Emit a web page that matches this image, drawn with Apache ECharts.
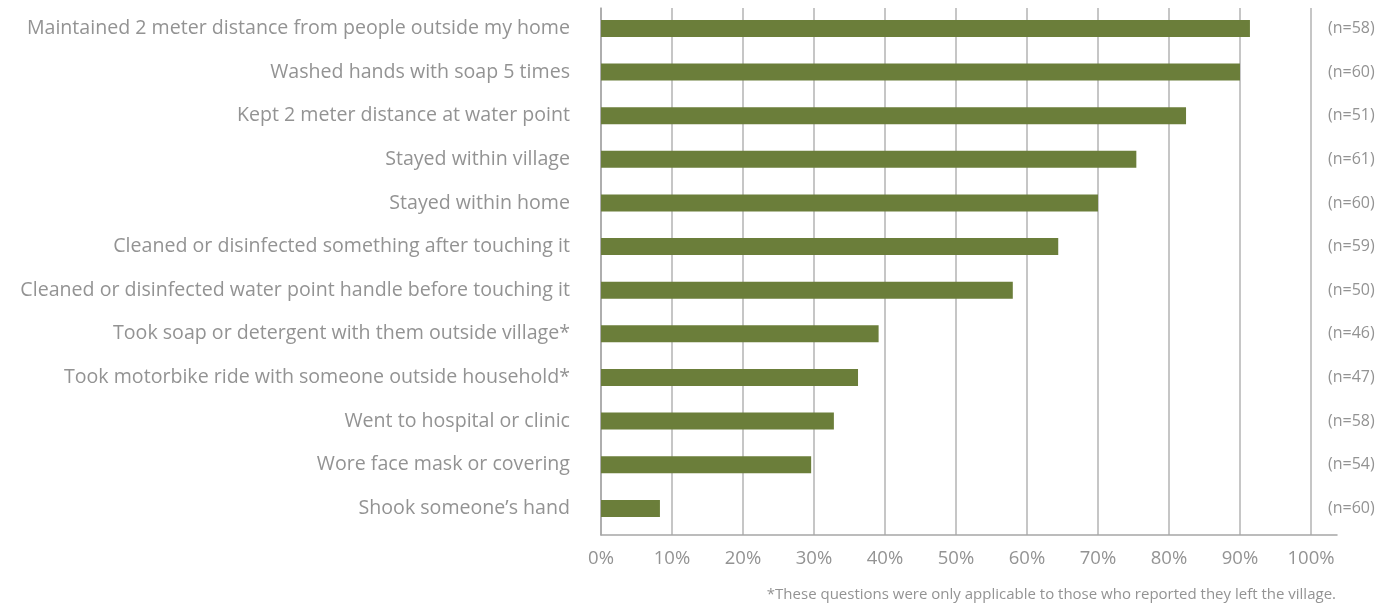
<!DOCTYPE html>
<html>
<head>
<meta charset="utf-8">
<script src="https://cdn.jsdelivr.net/npm/echarts@6/dist/echarts.min.js"></script>
<style>
  html, body { margin: 0; padding: 0; background: #fff; }
  #chart { width: 1390px; height: 604px; }
</style>
</head>
<body>
<div id="chart"></div>
<script>
// Share of respondents reporting each behaviour (%), with sample size per item
const behaviours = [
  'Maintained 2 meter distance from people outside my home',
  'Washed hands with soap 5 times',
  'Kept 2 meter distance at water point',
  'Stayed within village',
  'Stayed within home',
  'Cleaned or disinfected something after touching it',
  'Cleaned or disinfected water point handle before touching it',
  'Took soap or detergent with them outside village*',
  'Took motorbike ride with someone outside household*',
  'Went to hospital or clinic',
  'Wore face mask or covering',
  'Shook someone\u2019s hand'
];
const percentages = [91.4, 90.0, 82.4, 75.4, 70.0, 64.4, 58.0, 39.1, 36.2, 32.8, 29.6, 8.3];
const sampleSizes = [58, 60, 51, 61, 60, 59, 50, 46, 47, 58, 54, 60];
const footnote = '*These questions were only applicable to those who reported they left the village.';

const FONT = '"Open Sans", sans-serif';
const TEXT = '#939393';
const GRID = '#b3b3b3';
const BAR = '#6b7e3a';

// Axis frame runs a little past 100%; the extra stretch carries no label or gridline.
const FRAME_MAX = 103.66;
const gridColors = [];
for (let i = 0; i <= 10; i++) gridColors.push(GRID);
gridColors.push('rgba(0,0,0,0)');

const chart = echarts.init(document.getElementById('chart'), null, { renderer: 'canvas' });
chart.setOption({
  backgroundColor: '#fff',
  animation: false,
  grid: [
    // frame: x axis, gridlines, left axis line
    { left: 601, right: 53, top: 8, bottom: 69, containLabel: false },
    // bars and category labels
    { left: 601, width: 710, top: 6.6, height: 523.6, containLabel: false }
  ],
  xAxis: [
    {
      type: 'value', gridIndex: 0, min: 0, max: FRAME_MAX, interval: 10,
      axisLine: { show: true, lineStyle: { color: '#a6a6a6', width: 1.5 } },
      axisTick: { show: false },
      splitLine: { show: true, lineStyle: { color: gridColors, width: 1.5 } },
      axisLabel: {
        color: TEXT, fontFamily: FONT, fontSize: 18.5, margin: 14,
        showMaxLabel: false,
        formatter: v => (v <= 100.001 ? Math.round(v) + '%' : '')
      }
    },
    { type: 'value', gridIndex: 1, min: 0, max: 100, show: false }
  ],
  yAxis: [
    {
      type: 'value', gridIndex: 0, min: 0, max: 1,
      axisLine: { show: true, lineStyle: { color: '#a6a6a6', width: 1.5 } },
      axisTick: { show: false }, axisLabel: { show: false }, splitLine: { show: false }
    },
    {
      type: 'category', gridIndex: 1, data: behaviours, inverse: true,
      axisLine: { show: false }, axisTick: { show: false },
      axisLabel: { color: TEXT, fontFamily: FONT, fontSize: 19.6, margin: 31 }
    },
    {
      type: 'category', gridIndex: 1, position: 'right', inverse: true,
      data: sampleSizes.map(n => '(n=' + n + ')'),
      axisLine: { show: false }, axisTick: { show: false },
      axisLabel: { color: TEXT, fontFamily: FONT, fontSize: 16, margin: 17 }
    }
  ],
  series: [{
    type: 'bar',
    xAxisIndex: 1, yAxisIndex: 1,
    data: percentages,
    barWidth: 17,
    itemStyle: { color: BAR },
    silent: true
  }],
  graphic: [{
    type: 'text', right: 54, top: 587,
    style: { text: footnote, fill: TEXT, font: '15px ' + FONT, textAlign: 'right' }
  }]
});
</script>
</body>
</html>
